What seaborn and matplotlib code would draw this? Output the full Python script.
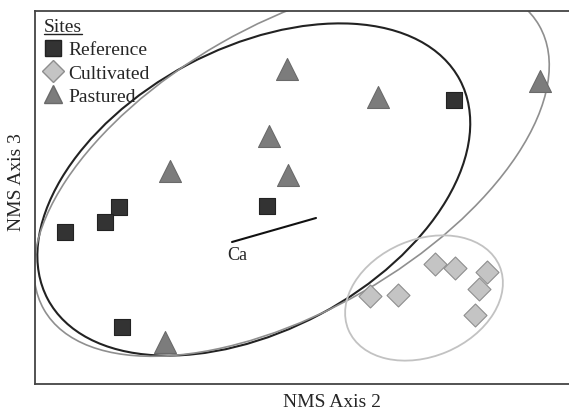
import numpy as np
import pandas as pd
import matplotlib
matplotlib.use("Agg")
import matplotlib.pyplot as plt
from matplotlib.patches import Ellipse
from matplotlib.lines import Line2D
import seaborn as sns

# NMS scores (axis 2, axis 3)
ref_x = [1.54, -0.33, -1.81, -1.95, -2.35, -1.78]
ref_y = [0.99, -0.07, -0.08, -0.23, -0.33, -1.28]
cult_x = [1.35, 1.55, 1.87, 1.79, 0.70, 0.98, 1.75]
cult_y = [-0.65, -0.69, -0.73, -0.90, -0.97, -0.96, -1.16]
past_x = [-0.13, 0.78, 2.40, -0.31, -1.30, -0.12, -1.35]
past_y = [1.30, 1.02, 1.18, 0.63, 0.28, 0.24, -1.43]

# group ellipses: centre x, centre y, width, height, angle
ell_groups = ["Reference", "Pastured", "Cultivated"]
ell_cx = [-0.462, -0.084, 1.24]
ell_cy = [0.095, 0.314, -0.99]
ell_w = [4.668, 5.709, 1.64]
ell_h = [2.826, 2.864, 1.17]
ell_ang = [28.04, 29.84, 22.9]

# Ca joint-plot vector
ca_x = [-0.68, 0.16]
ca_y = [-0.43, -0.19]

sns.set_style("white")
plt.rcParams['font.family'] = ['Liberation Serif', 'DejaVu Serif']
plt.rcParams['font.size'] = 14

df = pd.DataFrame({
    'x': ref_x + cult_x + past_x,
    'y': ref_y + cult_y + past_y,
    'site': ['Reference'] * len(ref_x) + ['Cultivated'] * len(cult_x) + ['Pastured'] * len(past_x),
})

estilo = {
    'Reference': dict(marker='s', color='#333333', edgecolor='#222222', s=132),
    'Cultivated': dict(marker='D', color='#c4c4c4', edgecolor='#8e8e8e', s=137),
    'Pastured': dict(marker='^', color='#7c7c7c', edgecolor='#6a6a6a', s=250),
}
ell_cor = {'Reference': ('#222222', 1.5), 'Pastured': ('#8f8f8f', 1.2), 'Cultivated': ('#c2c2c2', 1.3)}

fig = plt.figure(figsize=(5.69, 4.10), dpi=100)
ax = fig.add_axes([35 / 569, 25 / 410, 534 / 569, 373 / 410])

for g, cx, cy, w, h, a in zip(ell_groups, ell_cx, ell_cy, ell_w, ell_h, ell_ang):
    cor, lw = ell_cor[g]
    ax.add_patch(Ellipse((cx, cy), w, h, angle=a, fill=False, edgecolor=cor, linewidth=lw, zorder=1))

ax.plot(ca_x, ca_y, color='#111111', linewidth=1.5, zorder=2)
ax.text(-0.63, -0.56, 'Ca', ha='center', va='center', fontsize=13)

for site, st in estilo.items():
    sub = df[df['site'] == site]
    sns.scatterplot(data=sub, x='x', y='y', ax=ax, marker=st['marker'], color=st['color'],
                    edgecolor=st['edgecolor'], linewidth=0.8, s=st['s'], zorder=3, legend=False)

ax.set_xlim(-2.65, 2.69)
ax.set_ylim(-1.85, 1.88)
ax.set_xticks([])
ax.set_yticks([])
for lado in ['left', 'top', 'bottom']:
    ax.spines[lado].set_color('#444444')
    ax.spines[lado].set_linewidth(1.3)
ax.spines['right'].set_visible(False)

ax.set_xlabel('NMS Axis 2', fontsize=14)
ax.set_ylabel('NMS Axis 3', fontsize=14)
ax.xaxis.set_label_coords(297 / 534, -9 / 373)
ax.yaxis.set_label_coords(-10 / 534, 203 / 373)

handles = [
    Line2D([], [], linestyle='none', marker='s', markersize=11.5, markerfacecolor='#333333', markeredgecolor='#222222'),
    Line2D([], [], linestyle='none', marker='D', markersize=11.0, markerfacecolor='#c4c4c4', markeredgecolor='#8e8e8e'),
    Line2D([], [], linestyle='none', marker='^', markersize=13.5, markerfacecolor='#7c7c7c', markeredgecolor='#6a6a6a'),
]
leg = ax.legend(handles, ['Reference', 'Cultivated', 'Pastured'], title='Sites', loc='upper left',
                bbox_to_anchor=(0.0, 1.005), frameon=False, fontsize=14, title_fontsize=14,
                handlelength=1.0, handletextpad=0.25, labelspacing=0.3, borderaxespad=0.0,
                borderpad=0.45, alignment='left')

# underline the legend title
fig.canvas.draw()
bb = leg.get_title().get_window_extent().transformed(fig.transFigure.inverted())
fig.add_artist(Line2D([bb.x0, bb.x1], [bb.y0 + 0.002, bb.y0 + 0.002], transform=fig.transFigure,
                      color='#222222', linewidth=1.0))

fig.savefig('out.png', dpi=100)
